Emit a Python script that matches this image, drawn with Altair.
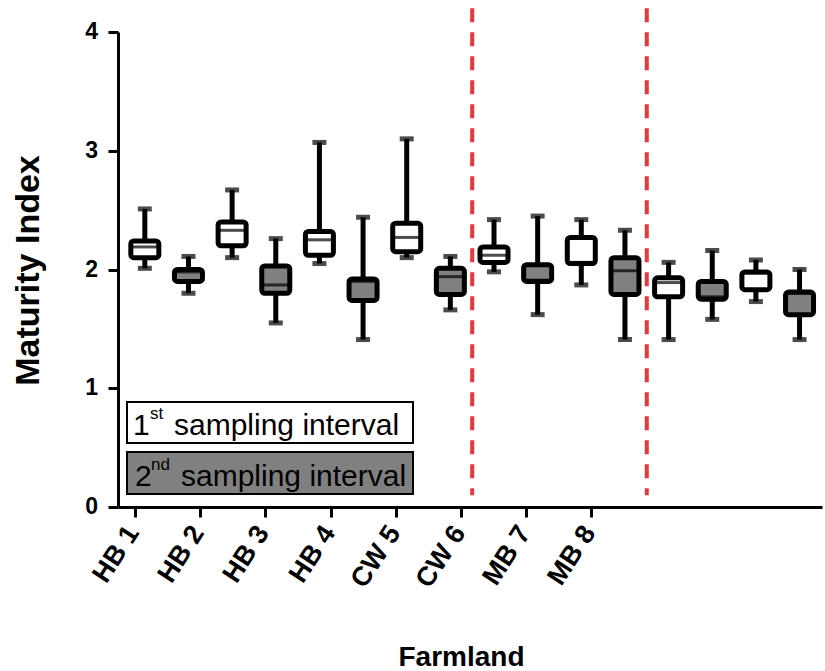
import altair as alt
import pandas as pd

# ---- data ----
farms = ["HB 1", "HB 2", "HB 3", "HB 4", "CW 5", "CW 6", "MB 7", "MB 8"]
intervals = ["1st", "2nd"]
# 16 boxes: (farm, interval) in order HB1-1st, HB1-2nd, HB2-1st, ...
whisker_low = [2.01, 1.80, 2.10, 1.55, 2.05, 1.41, 2.10, 1.66,
               1.98, 1.62, 1.87, 1.41, 1.41, 1.58, 1.73, 1.41]
q1 = [2.10, 1.90, 2.20, 1.80, 2.12, 1.74, 2.15, 1.79,
      2.06, 1.90, 2.05, 1.79, 1.77, 1.75, 1.83, 1.62]
median = [2.19, 1.98, 2.33, 1.87, 2.25, 1.90, 2.27, 1.94,
          2.12, 1.91, 2.06, 1.99, 1.89, 1.77, 1.97, 1.80]
q3 = [2.24, 2.00, 2.40, 2.03, 2.32, 1.92, 2.39, 2.01,
      2.19, 2.04, 2.27, 2.10, 1.93, 1.90, 1.98, 1.81]
whisker_high = [2.51, 2.11, 2.67, 2.26, 3.07, 2.44, 3.10, 2.11,
                2.42, 2.45, 2.42, 2.33, 2.06, 2.16, 2.08, 2.00]
tick_positions = [-0.23, 1.26, 2.75, 4.27, 5.76, 7.25, 8.74, 10.23]
y_ticks = [0, 1, 2, 3, 4]
divider_positions = [7.5, 11.5]

rows = []
for i in range(16):
    rows.append({
        "farm": farms[i // 2],
        "interval": intervals[i % 2],
        "pos": i,
        "lo": whisker_low[i], "q1": q1[i], "med": median[i],
        "q3": q3[i], "hi": whisker_high[i],
    })
df = pd.DataFrame(rows)
div_df = pd.DataFrame({"pos": divider_positions, "lo": [4.2, 4.2], "hi": [0.1, 0.1]})
tick_df = pd.DataFrame({"pos": tick_positions, "label": farms})
ytick_df = pd.DataFrame({"v": y_ticks, "label": [str(v) for v in y_ticks]})

FONT = "Liberation Sans"

xscale = alt.Scale(domain=[-0.5, 15.4], nice=False, zero=False)
yscale = alt.Scale(domain=[0, 4], nice=False)

xaxis = alt.Axis(values=tick_positions, labels=False,
                 title="Farmland", titleFontSize=28, titleFontWeight="bold", titleX=343, titleY=158,
                 titleBaseline="alphabetic", titleAlign="center", grid=False)
yaxis = alt.Axis(values=y_ticks, labels=False, title="Maturity Index",
                 titleFontSize=34, titleFontWeight="bold", titleAngle=270,
                 titleX=-80, titleY=238, titleBaseline="alphabetic", titleAlign="center", grid=False)


def X(field="pos"):
    return alt.X(f"{field}:Q", scale=xscale, axis=xaxis)


def Y(field):
    return alt.Y(f"{field}:Q", scale=yscale, axis=yaxis)


base = alt.Chart(df)
color_scale = alt.Scale(domain=intervals, range=["#ffffff", "#808080"])

whiskers = base.mark_rule(color="black", strokeWidth=5).encode(x=X(), y=Y("lo"), y2="hi:Q")
cap_lo = base.mark_tick(color="black", thickness=5, size=14, orient="horizontal").encode(x=X(), y=Y("lo"))
cap_hi = base.mark_tick(color="black", thickness=5, size=14, orient="horizontal").encode(x=X(), y=Y("hi"))
boxes = base.mark_bar(size=28, stroke="black", strokeWidth=5, cornerRadius=3).encode(
    x=X(), y=Y("q1"), y2="q3:Q",
    fill=alt.Fill("interval:N", scale=color_scale, legend=None),
)
medians = base.mark_tick(color="black", thickness=3, size=28, orient="horizontal").encode(x=X(), y=Y("med"))

dividers = alt.Chart(div_df).mark_rule(color="#e8383d", strokeWidth=4, strokeDash=[14, 10]).encode(
    x=X(), y=Y("lo"), y2="hi:Q")

tick_labels = alt.Chart(tick_df).mark_text(
    font=FONT, fontSize=27, fontWeight="bold", angle=303, align="right", baseline="middle",
    color="black", dx=-3
).encode(x=X(), y=alt.value(494), text="label:N")

ytick_labels = alt.Chart(ytick_df).mark_text(
    font=FONT, fontSize=23, fontWeight="bold", align="right", baseline="middle", color="black"
).encode(y=Y("v"), x=alt.value(-20), text="label:N")

# legend boxes (annotation)
one = pd.DataFrame({"a": [0]})
leg1 = alt.Chart(one).mark_rect(fill="white", stroke="black", strokeWidth=2).encode(
    x=alt.value(9), x2=alt.value(295), y=alt.value(370), y2=alt.value(411))
leg2 = alt.Chart(one).mark_rect(fill="#808080", stroke="black", strokeWidth=2).encode(
    x=alt.value(9), x2=alt.value(295), y=alt.value(420), y2=alt.value(462))


def txt(s, x, y, size):
    return alt.Chart(one).mark_text(text=s, font=FONT, fontSize=size, align="left",
                                    baseline="alphabetic", color="black").encode(
        x=alt.value(x), y=alt.value(y))


legend_layers = [
    leg1, leg2,
    txt("1", 15, 403, 30), txt("st", 32, 387, 17), txt("sampling interval", 56, 403, 30),
    txt("2", 17, 454, 30), txt("nd", 33, 438, 17), txt("sampling interval", 63, 454, 30),
]

chart = alt.layer(whiskers, cap_lo, cap_hi, boxes, medians, dividers, tick_labels, ytick_labels,
                  *legend_layers).properties(
    width=704, height=475,
    autosize=alt.AutoSizeParams(type="none"),
    padding={"left": 118, "top": 32, "right": 3, "bottom": 164},
).configure_view(stroke=None).configure_axis(
    domainColor="black", domainWidth=3, tickColor="black", tickWidth=3, tickSize=10,
    labelColor="black", titleColor="black", labelFont=FONT, titleFont=FONT,
)

chart.save("out.html", embed_options={"renderer": "svg", "actions": False})
